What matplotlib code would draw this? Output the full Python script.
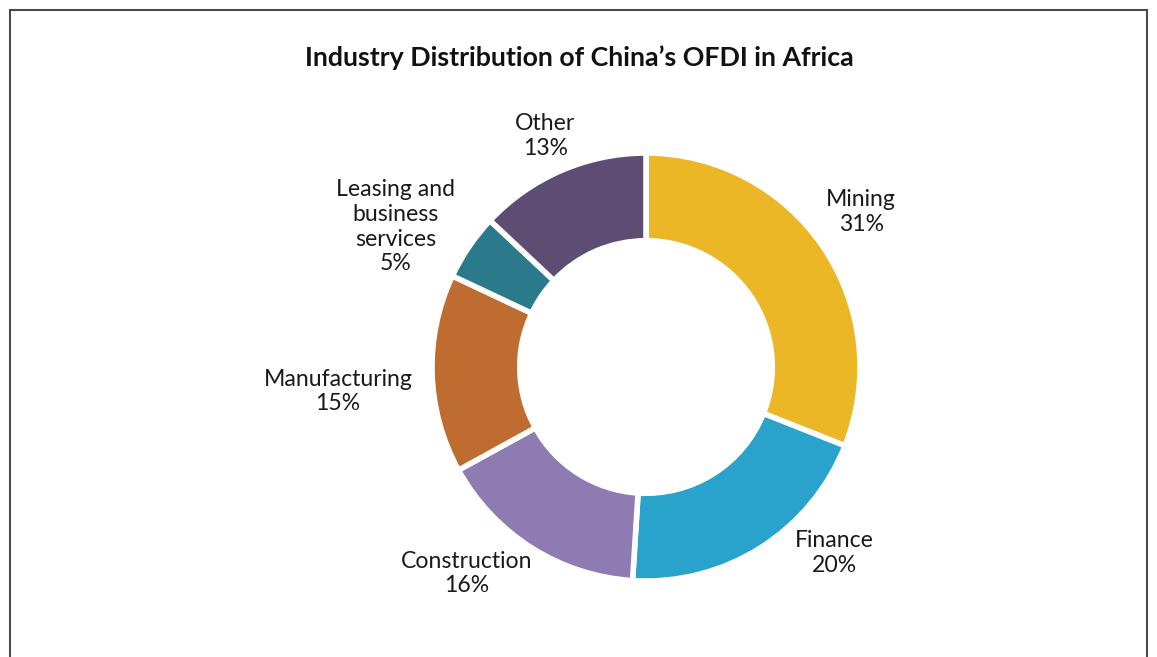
import matplotlib.pyplot as plt
from matplotlib.patches import Rectangle

plt.rcParams['font.family'] = ['Lato', 'DejaVu Sans']

# Sectores y participación (%)
sectores = ["Mining", "Finance", "Construction", "Manufacturing",
            "Leasing and\nbusiness\nservices", "Other"]
porcentajes = [31, 20, 16, 15, 5, 13]
colores = ["#EBB727", "#2AA3CC", "#8E7BB1", "#BE6C2F", "#2A7A8C", "#5E4D72"]

# Posición de cada etiqueta (en radios del anillo, centro en 0,0)
pos_etiquetas = [(1.005, 0.725), (0.88, -0.87), (-0.84, -0.965),
                 (-1.44, -0.115), (-1.17, 0.655), (-0.47, 1.08)]

fig = plt.figure(figsize=(11.57, 6.57), dpi=100)
ax = fig.add_axes([0, 0, 1, 1])

R = 214  # radio en pixeles
ax.pie(porcentajes, colors=colores, startangle=90, counterclock=False,
       radius=1, wedgeprops=dict(width=0.41, edgecolor="white", linewidth=4))

for nombre, valor, (x, y) in zip(sectores, porcentajes, pos_etiquetas):
    ax.text(x, y, "{}\n{}%".format(nombre, valor), ha="center", va="center",
            fontsize=16.6, color="#1a1a1a", linespacing=1.22)

ax.set_xlim(-646 / R, (1157 - 646) / R)
ax.set_ylim(-(657 - 367) / R, 367 / R)
ax.set_aspect("equal")
ax.axis("off")

fig.text(579 / 1157, 1 - 58 / 657, "Industry Distribution of China\u2019s OFDI in Africa",
         ha="center", va="center", fontsize=19.3, fontweight="bold", color="#111111")

# Marco exterior
fig.patches.append(Rectangle((10 / 1157, -0.05), 1137 / 1157, 0.05 + 647 / 657,
                             transform=fig.transFigure, fill=False,
                             edgecolor="#4a4a4a", linewidth=1.5))

fig.savefig("out.png", dpi=100)
